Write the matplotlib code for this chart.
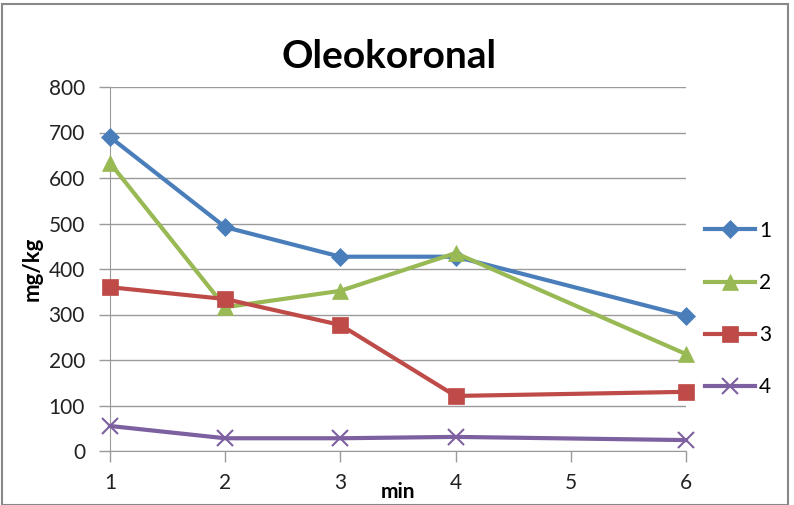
import matplotlib.pyplot as plt
from matplotlib.patches import Rectangle

# data
minutes = [1, 2, 3, 4, 6]
s1 = [690, 492, 427, 427, 297]
s2 = [633, 316, 352, 435, 213]
s3 = [360, 334, 277, 121, 130]
s4 = [55, 28, 28, 31, 24]
names = ['1', '2', '3', '4']

colors = ['#4A7EBB', '#98B954', '#BE4B48', '#7D60A0']
markers = ['D', '^', 's', 'x']
msizes = [9, 12, 11, 12]

plt.rcParams['font.family'] = ['Lato', 'DejaVu Sans']

fig = plt.figure(figsize=(7.94, 5.05), dpi=100)
ax = fig.add_axes([110 / 794, 1 - 451 / 505, 576 / 794, 364 / 505])

for ys, c, m, ms, n in zip([s1, s2, s3, s4], colors, markers, msizes, names):
	ax.plot(minutes, ys, color=c, lw=3, marker=m, markersize=ms,
		markeredgewidth=1.5 if m == 'x' else 0.5, markeredgecolor=c,
		label=n, clip_on=False, zorder=3)

ax.set_xlim(1, 6)
ax.set_ylim(0, 800)
ax.set_xticks([1, 2, 3, 4, 5, 6])
ax.set_yticks(range(0, 801, 100))
ax.yaxis.grid(True, color='#9a9a9a', lw=1)
ax.set_axisbelow(True)
for s in ['top', 'right']:
	ax.spines[s].set_visible(False)
for s in ['left', 'bottom']:
	ax.spines[s].set_color('#9a9a9a')
ax.tick_params(axis='both', colors='#9a9a9a', labelcolor='#222222', labelsize=15, length=8, width=1)
ax.tick_params(axis='x', pad=8)
ax.tick_params(axis='y', pad=10)

ax.set_title('Oleokoronal', fontsize=28, fontweight='bold', pad=14, x=0.485)
ax.set_ylabel('mg/kg', fontsize=16, fontweight='bold', labelpad=4)
ax.set_xlabel('min', fontsize=15, fontweight='bold', labelpad=-8)

leg = ax.legend(loc='center left', bbox_to_anchor=(1.0, 0.39), frameon=False,
	fontsize=15, handlelength=2.4, labelspacing=1.55, handletextpad=0.2)

fig.patches.append(Rectangle((0.002, 0.0), 0.99, 0.993, transform=fig.transFigure,
	fill=False, edgecolor='#888888', lw=1.5))

fig.savefig('out.png', dpi=100)
